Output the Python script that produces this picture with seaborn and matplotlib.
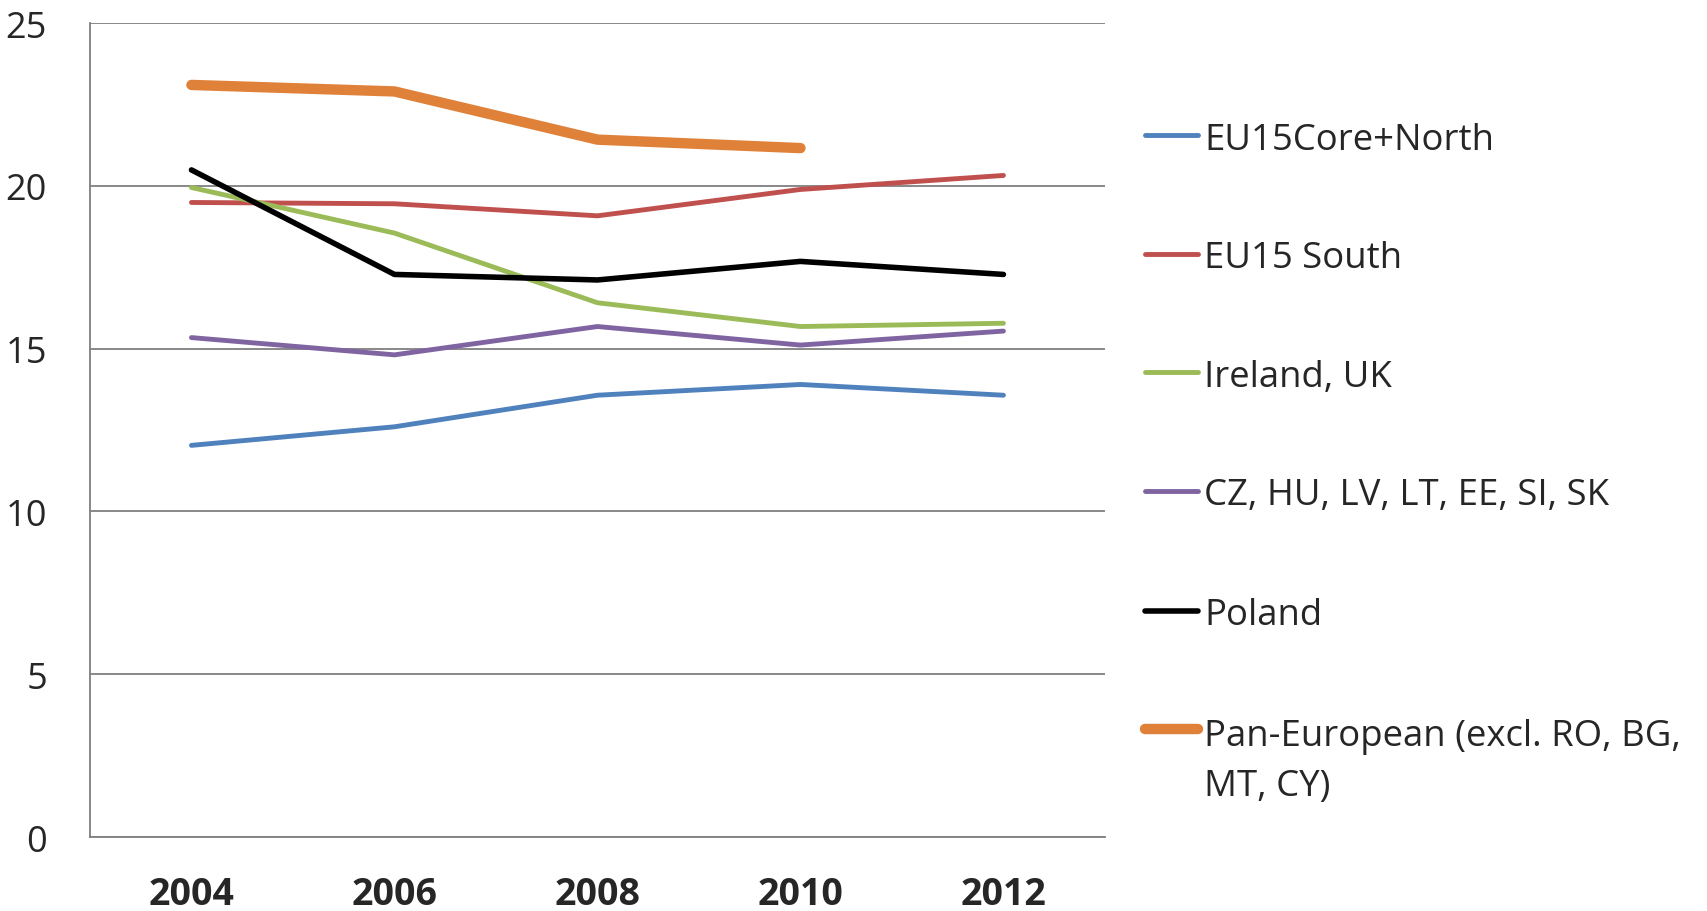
import matplotlib
matplotlib.use("Agg")
import matplotlib.pyplot as plt
from matplotlib.lines import Line2D
import numpy as np
import pandas as pd
import seaborn as sns

years = ["2004", "2006", "2008", "2010", "2012"]
series_names = [
    "EU15Core+North",
    "EU15 South",
    "Ireland, UK",
    "CZ, HU, LV, LT, EE, SI, SK",
    "Poland",
    "Pan-European (excl. RO, BG,\nMT, CY)",
]
eu15_core_north = [12.03, 12.6, 13.57, 13.9, 13.57]
eu15_south = [19.49, 19.45, 19.08, 19.89, 20.32]
ireland_uk = [19.95, 18.55, 16.41, 15.68, 15.78]
cee = [15.34, 14.81, 15.68, 15.11, 15.54]
poland = [20.49, 17.28, 17.11, 17.68, 17.28]
pan_european = [23.1, 22.9, 21.42, 21.16, np.nan]

colors = ["#4F81BD", "#C0504D", "#9BBB59", "#8064A2", "#000000", "#E0813A"]
widths = [3.5, 3.5, 3.5, 3.5, 4.0, 7.5]

values = [eu15_core_north, eu15_south, ireland_uk, cee, poland, pan_european]
rows = []
for name, vals in zip(series_names, values):
    for i, v in enumerate(vals):
        rows.append({"series": name, "pos": i, "value": v})
df = pd.DataFrame(rows)

sns.set_style("white")
plt.rcParams["font.family"] = ["Open Sans", "DejaVu Sans"]

fig = plt.figure(figsize=(17.07, 9.12), dpi=100)
ax = fig.add_axes([0.0527, 0.0811, 0.5946, 0.8925])

for name, c, lw in zip(series_names, colors, widths):
    sub = df[df["series"] == name].dropna()
    sns.lineplot(data=sub, x="pos", y="value", color=c, linewidth=lw, ax=ax,
                 legend=False, sort=False, solid_capstyle="round")

ax.set_xlim(-0.5, 4.5)
ax.set_ylim(0, 25)
ax.set_yticks([0, 5, 10, 15, 20, 25])
ax.set_yticklabels(["0", "5", "10", "15", "20", "25"], fontsize=26)
ax.set_xticks(range(len(years)))
ax.set_xticklabels(years, fontsize=27, fontweight="bold")
ax.set_xticks(np.arange(-0.5, 5.0, 1.0), minor=True)
ax.tick_params(axis="x", which="major", length=0, pad=27)
ax.tick_params(axis="x", which="minor", length=12, width=1.2, color="#7F7F7F", direction="out")
ax.tick_params(axis="y", length=12, width=1.2, color="#7F7F7F", direction="out", pad=19)
ax.set_xlabel("")
ax.set_ylabel("")
ax.yaxis.grid(True, color="#7F7F7F", linewidth=1.3)
ax.set_axisbelow(True)
for s in ["top", "right"]:
    ax.spines[s].set_visible(False)
for s in ["left", "bottom"]:
    ax.spines[s].set_color("#7F7F7F")
    ax.spines[s].set_linewidth(1.3)

# legend, drawn by hand to match the spacing of the original
leg_x0, leg_x1, txt_x = 1145 / 1707, 1198 / 1707, 1204 / 1707
leg_y = [136, 255, 373, 492, 612, 730]
for name, c, lw, yp in zip(series_names, colors, widths, leg_y):
    y = 1 - yp / 912
    fig.add_artist(Line2D([leg_x0, leg_x1], [y, y], color=c, linewidth=lw,
                          solid_capstyle="round", transform=fig.transFigure))
    ty = y - 21 / 912 if "\n" in name else y
    fig.text(txt_x, ty, name, fontsize=26.3, va="center_baseline", ha="left", linespacing=1.5)

fig.savefig("out.png", dpi=100)
